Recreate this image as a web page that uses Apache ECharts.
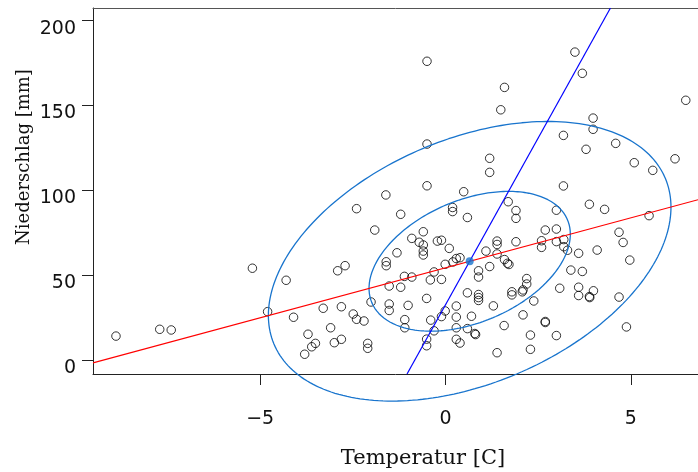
<!DOCTYPE html>
<html>
<head>
<meta charset="utf-8">
<script src="https://cdn.jsdelivr.net/npm/echarts@6/dist/echarts.min.js"></script>
<style>
  html, body { margin: 0; padding: 0; background: #fff; }
  #chart { width: 698px; height: 472px; }
</style>
</head>
<body>
<div id="chart"></div>
<script>
// Temperatur [C] und Niederschlag [mm]
const temperature = [
  -8.89, -7.71, -7.40, -5.21, -4.80, -4.30, -4.10, -3.80, -3.71, -3.61,
  -3.51, -3.30, -3.10, -3.00, -2.91, -2.81, -2.81, -2.71, -2.49, -2.40,
  -2.20, -2.40, -2.10, -2.10, -2.01, -1.91, -1.61, -1.60, -1.60, -1.52,
  -1.52, -1.52, -0.50, 3.49, 3.69, 1.59, 1.49, 6.48, 3.98, 3.98,
  3.18, -0.50, 4.59, 3.79, 1.19, 6.19, 1.19, 5.09, 5.59, -0.50,
  0.49, 3.18, 1.69, 3.88, 4.29, 0.19, 0.19, 1.90, 2.99, -1.21,
  0.59, 1.90, 5.49, 2.69, 2.99, -0.60, 4.68, -0.91, 1.39, 1.39,
  1.90, 2.59, 2.99, 3.19, 4.79, -0.71, -0.60, -0.22, -0.11, -0.60,
  -0.60, -1.31, 0.10, 2.59, 3.19, 3.29, 1.09, 1.39, 4.09, 3.59,
  4.97, 0.29, 0.39, 0.20, 1.59, 1.67, 1.71, -0.01, 1.19, 0.89,
  0.89, -0.31, -1.11, -0.91, -0.41, -0.11, 3.38, 3.69, -1.21, 2.19,
  2.19, 2.09, 2.07, 3.08, 3.59, 3.59, 3.88, 3.89, 3.99, 4.68,
  1.79, 1.79, 0.59, 0.89, 0.89, 0.89, -0.51, 2.38, -1.01, 0.29,
  1.29, -0.01, -0.11, 0.29, 0.70, 2.09, -1.10, -1.10, -0.40, -0.31,
  0.29, 0.59, 0.79, 0.81, 1.58, 2.69, 2.69, 4.88, 2.29, 2.99,
  -0.51, -0.51, 0.29, 0.39, 1.39, 2.29
];
const precipitation = [
  14.1, 18.1, 17.7, 54.1, 28.5, 47.0, 25.2, 3.4, 15.2, 7.8,
  9.8, 30.5, 19.0, 10.2, 52.6, 31.4, 12.2, 55.6, 27.1, 24.0,
  23.0, 89.2, 9.8, 6.9, 34.2, 76.6, 97.3, 57.9, 55.6, 43.6,
  33.0, 29.2, 176.1, 181.5, 169.0, 160.7, 147.5, 153.1, 142.6, 136.0,
  132.4, 127.3, 127.7, 124.2, 118.9, 118.6, 110.6, 116.3, 111.8, 102.7,
  99.2, 102.6, 93.3, 91.8, 88.8, 89.9, 87.5, 88.1, 88.3, 85.9,
  84.0, 83.5, 85.1, 76.6, 77.2, 75.6, 75.3, 71.7, 70.1, 68.1,
  69.7, 70.3, 69.8, 71.0, 69.3, 69.4, 67.8, 70.1, 70.6, 64.2,
  61.9, 63.2, 65.8, 66.4, 66.8, 64.7, 64.2, 62.5, 64.8, 62.9,
  58.9, 59.8, 60.3, 57.8, 59.2, 57.0, 56.3, 56.4, 55.1, 52.6,
  48.9, 51.9, 49.3, 48.9, 47.2, 47.5, 53.0, 52.2, 42.9, 48.0,
  44.8, 41.3, 40.2, 42.3, 42.9, 38.0, 37.4, 36.8, 40.8, 37.1,
  40.2, 38.4, 39.6, 38.6, 36.8, 35.1, 36.3, 34.8, 32.2, 31.8,
  31.9, 28.9, 25.6, 25.3, 25.8, 26.6, 23.8, 19.0, 23.5, 17.2,
  19.0, 18.5, 15.6, 15.0, 20.3, 22.7, 22.1, 19.5, 14.7, 14.4,
  12.3, 8.4, 12.2, 10.0, 4.3, 6.3
];

const xTicks = [-5, 0, 5];
const yTicks = [0, 50, 100, 150, 200];
const xRange = [-9.51, 6.81];
const yRange = [-8.25, 207.5];

// Mittelwert, Regressionen und Streuungsellipse
const centre = [0.651, 58.2];
const slopeYonX = 5.89;
const slopeXonY = 0.02543;
const ellipseSd = [2.715, 41.2];
const ellipseRho = 0.387;
const ellipseLevels = [1, 2];

const points = temperature.map((t, i) => [t, precipitation[i]]);

const ellipse = (k) => {
  const out = [];
  const s = Math.sqrt(1 - ellipseRho * ellipseRho);
  for (let i = 0; i <= 240; i++) {
    const a = (i / 240) * Math.PI * 2;
    out.push([
      centre[0] + k * ellipseSd[0] * Math.cos(a),
      centre[1] + k * ellipseSd[1] * (ellipseRho * Math.cos(a) + s * Math.sin(a))
    ]);
  }
  return out;
};

const lineYonX = xRange.map((x) => [x, centre[1] + slopeYonX * (x - centre[0])]);
const lineXonY = yRange.map((y) => [centre[0] + slopeXonY * (y - centre[1]), y]);

const minus = (v) => (v < 0 ? '\u2212' + Math.abs(v) : String(v));
const tickFont = { fontFamily: 'DejaVu Sans', fontSize: 19, color: '#111' };

const chart = echarts.init(document.getElementById('chart'));
chart.setOption({
  animation: false,
  grid: { left: 93, top: 8, right: 0, bottom: 98 },
  xAxis: [
    {
      type: 'value',
      min: xRange[0],
      max: xRange[1],
      axisLine: { show: true, onZero: false, lineStyle: { color: '#222', width: 1 } },
      axisTick: { show: true, length: 11, customValues: xTicks, lineStyle: { color: '#222' } },
      axisLabel: { customValues: xTicks, margin: 36, formatter: minus, ...tickFont },
      splitLine: { show: false }
    },
    {
      type: 'value',
      position: 'top',
      min: xRange[0],
      max: xRange[1],
      axisLine: { show: true, onZero: false, lineStyle: { color: '#555', width: 1 } },
      axisTick: { show: false },
      axisLabel: { show: false },
      splitLine: { show: false }
    }
  ],
  yAxis: {
    type: 'value',
    min: yRange[0],
    max: yRange[1],
    axisLine: { show: true, onZero: false, lineStyle: { color: '#222', width: 1 } },
    axisTick: { show: true, length: 11, customValues: yTicks, lineStyle: { color: '#222' } },
    axisLabel: {
      customValues: yTicks,
      margin: 17,
      verticalAlign: 'top',
      lineHeight: 16,
      ...tickFont
    },
    splitLine: { show: false }
  },
  graphic: [
    {
      type: 'text',
      x: 24,
      y: 157,
      rotation: Math.PI / 2,
      style: {
        text: 'Niederschlag [mm]',
        fontFamily: 'DejaVu Serif',
        fontSize: 18,
        fill: '#111',
        align: 'center',
        verticalAlign: 'middle'
      }
    },
    {
      type: 'text',
      x: 423,
      y: 459,
      style: {
        text: 'Temperatur [C]',
        fontFamily: 'DejaVu Serif',
        fontSize: 21,
        fill: '#111',
        align: 'center',
        verticalAlign: 'middle'
      }
    }
  ],
  series: [
    {
      type: 'scatter',
      data: points,
      symbol: 'circle',
      symbolSize: 8.5,
      itemStyle: { color: 'rgba(0,0,0,0)', borderColor: '#000', borderWidth: 1 },
      z: 2
    },
    ...ellipseLevels.map((k) => ({
      type: 'line',
      data: ellipse(k),
      showSymbol: false,
      clip: false,
      lineStyle: { color: '#1874CD', width: 1.3 },
      z: 3
    })),
    {
      type: 'line',
      data: lineYonX,
      showSymbol: false,
      lineStyle: { color: '#ff0000', width: 1.2 },
      z: 4
    },
    {
      type: 'line',
      data: lineXonY,
      showSymbol: false,
      lineStyle: { color: '#0000ff', width: 1.2 },
      z: 4
    },
    {
      type: 'scatter',
      data: [centre],
      symbol: 'circle',
      symbolSize: 8,
      itemStyle: { color: '#1874CD' },
      z: 5
    }
  ]
});
</script>
</body>
</html>
